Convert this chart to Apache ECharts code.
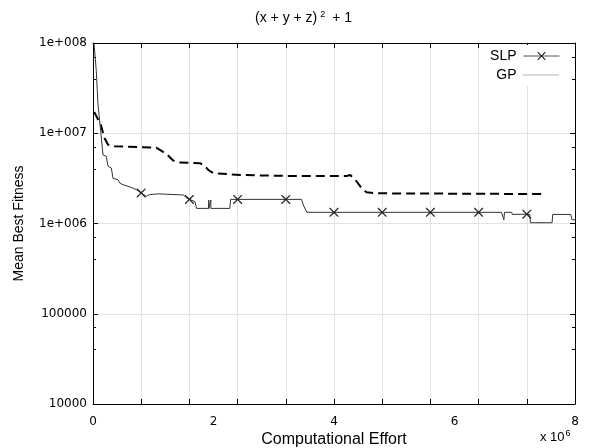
<!DOCTYPE html>
<html>
<head>
<meta charset="utf-8">
<script src="https://cdn.jsdelivr.net/npm/echarts@6/dist/echarts.min.js"></script>
<style>html,body{margin:0;padding:0;background:#fff}#c{width:607px;height:448px}</style>
</head>
<body>
<div id="c"></div>
<script>
// ---- data (x in units of 10^6 computational effort) ----
var slpX = [0.017,0.055,0.083,0.128,0.166,0.22,0.249,0.304,0.332,0.415,0.443,0.498,0.526,0.636,0.719,0.8,0.885,0.94,1.08,1.5,1.56,1.6,1.69,1.72,1.92,1.921,1.922,1.955,1.956,1.957,2.27,2.285,2.4,3.2,3.46,3.5,3.55,4.0,4.8,5.6,6.4,6.78,6.82,6.83,6.95,6.96,7.2,7.25,7.26,7.62,7.63,7.93,7.95,8.0];
var slpY = [1e8,4.85e7,2.07e7,1.05e7,5.75e6,5.56e6,4.31e6,4.12e6,3.16e6,3.06e6,2.81e6,2.69e6,2.57e6,2.51e6,2.37e6,2.18e6,2.0e6,2.09e6,2.13e6,2.07e6,1.90e6,1.85e6,1.75e6,1.47e6,1.47e6,1.82e6,1.47e6,1.47e6,1.82e6,1.47e6,1.47e6,1.85e6,1.85e6,1.85e6,1.85e6,1.55e6,1.33e6,1.33e6,1.33e6,1.33e6,1.33e6,1.33e6,1.1e6,1.33e6,1.33e6,1.26e6,1.27e6,1.25e6,1.02e6,1.02e6,1.26e6,1.26e6,1.1e6,1.1e6];
var slpMarkerX = [0.8,1.6,2.4,3.2,4.0,4.8,5.6,6.4,7.2];
var gpX = [0.02,0.13,0.19,0.25,0.36,1.05,1.15,1.22,1.33,1.45,1.78,1.85,1.92,2.0,2.5,3.2,4.21,4.27,4.38,4.46,4.54,4.71,7.47];
var gpY = [1.72e7,1.24e7,8.85e6,7.46e6,7.16e6,6.92e6,6.3e6,5.89e6,5.0e6,4.73e6,4.65e6,4.37e6,3.89e6,3.6e6,3.44e6,3.37e6,3.36e6,3.44e6,2.9e6,2.45e6,2.22e6,2.16e6,2.12e6];
var xTickLabels = ['0','2','4','6','8'];
var yTickLabels = {'4':'10000','5':'100000','6':'1e+006','7':'1e+007','8':'1e+008'};
var seriesNames = ['SLP','GP'];

var XPATH = 'path://M0,0L1,0L5,4L9,0L10,0L10,1L6,5L10,9L10,10L9,10L5,6L1,10L0,10L0,9L4,5L0,1Z';

var slpData = slpX.map(function (x, i) {
  var marked = slpMarkerX.indexOf(x) >= 0;
  return marked ? {value: [x, slpY[i]]} : {value: [x, slpY[i]], symbol: 'none'};
});
var gpData = gpX.map(function (x, i) { return [x, gpY[i]]; });

var tickFont = {fontFamily: 'DejaVu Sans', fontSize: 12, color: '#000'};
var gridLine = {show: true, lineStyle: {color: '#e2e2e2', width: 1}};

var chart = echarts.init(document.getElementById('c'), null, {renderer: 'canvas'});
chart.setOption({
  animation: false,
  backgroundColor: '#fff',
  title: {
    text: '{n|(x + y + z)}{s|2}{n| + 1}',
    left: 'center', top: 5,
    textStyle: {
      fontWeight: 'normal',
      rich: {
        n: {fontFamily: 'Liberation Sans', fontSize: 14, fontWeight: 'normal', color: '#000'},
        s: {fontFamily: 'Liberation Sans', fontSize: 9, fontWeight: 'normal', color: '#000', padding: [0, 3, 8, 3]}
      }
    }
  },
  grid: {left: 93, right: 32, top: 43, bottom: 44, containLabel: false, outerBoundsMode: 'none'},
  legend: {
    data: [
      {name: seriesNames[0], lineStyle: {width: 1, color: '#555'}},
      {name: seriesNames[1], itemStyle: {opacity: 0}, lineStyle: {type: [1, 1], width: 1, color: '#666'}}
    ],
    orient: 'vertical', align: 'right',
    top: 45, right: 43,
    itemWidth: 36, itemHeight: 10, itemGap: 5,
    backgroundColor: '#fff', padding: [4, 4, 4, 8],
    textStyle: {fontFamily: 'Liberation Sans', fontSize: 14, color: '#000', padding: [0, 2, 0, 0]}
  },
  xAxis: [
    {
      type: 'value', min: 0, max: 8, interval: 0.8, position: 'bottom',
      axisLine: {show: true, onZero: false, lineStyle: {color: '#000', width: 1}},
      axisTick: {show: true, inside: true, length: 5, lineStyle: {color: '#000'}},
      axisLabel: {show: false},
      splitLine: gridLine,
      name: 'Computational Effort', nameLocation: 'middle', nameGap: 28,
      nameTextStyle: {fontFamily: 'Liberation Sans', fontSize: 16, color: '#000'}
    },
    {
      type: 'value', min: 0, max: 8, interval: 2, position: 'bottom',
      axisLine: {show: false}, axisTick: {show: false}, splitLine: {show: false},
      axisLabel: Object.assign({show: true, margin: 12, formatter: function (v) {
        var idx = Math.round(v / 2);
        return xTickLabels[idx] !== undefined ? xTickLabels[idx] : '';
      }}, tickFont)
    },
    {
      type: 'value', min: 0, max: 8, interval: 0.8, position: 'top',
      axisLine: {show: true, onZero: false, lineStyle: {color: '#000', width: 1}},
      axisTick: {show: true, inside: true, length: 5, lineStyle: {color: '#000'}},
      axisLabel: {show: false}, splitLine: {show: false}
    }
  ],
  yAxis: [
    {
      type: 'log', logBase: 10, min: 1e4, max: 1e8, position: 'left',
      axisLine: {show: true, onZero: false, lineStyle: {color: '#000', width: 1}},
      axisTick: {show: true, inside: true, length: 5, lineStyle: {color: '#000'}},
      minorTick: {show: true, splitNumber: 3, length: 3, lineStyle: {color: '#000'}},
      axisLabel: Object.assign({margin: 6, formatter: function (v) {
        var k = String(Math.round(Math.log10(v)));
        return yTickLabels[k] || '';
      }}, tickFont),
      splitLine: gridLine,
      name: 'Mean Best Fitness', nameLocation: 'middle', nameGap: 67, nameRotate: 90,
      nameTextStyle: {fontFamily: 'Liberation Sans', fontSize: 14, color: '#000'}
    },
    {
      type: 'log', logBase: 10, min: 1e4, max: 1e8, position: 'right',
      axisLine: {show: true, onZero: false, lineStyle: {color: '#000', width: 1}},
      axisTick: {show: true, inside: true, length: 5, lineStyle: {color: '#000'}},
      minorTick: {show: true, splitNumber: 3, length: 3, lineStyle: {color: '#000'}},
      axisLabel: {show: false}, splitLine: {show: false}
    }
  ],
  graphic: [{
    type: 'text', left: 540, top: 429,
    style: {
      text: '{b|x 10}{s|6}',
      rich: {
        b: {fontFamily: 'Liberation Sans', fontSize: 13, fill: '#000'},
        s: {fontFamily: 'Liberation Sans', fontSize: 9, fill: '#000', padding: [0, 0, 7, 1]}
      }
    }
  }],
  series: [
    {
      name: seriesNames[0], type: 'line', xAxisIndex: 0, yAxisIndex: 0,
      data: slpData,
      symbol: XPATH, symbolSize: 9, showSymbol: true, showAllSymbol: true,
      itemStyle: {color: '#222'},
      lineStyle: {color: '#333', width: 1},
      z: 3
    },
    {
      name: seriesNames[1], type: 'line', xAxisIndex: 0, yAxisIndex: 0,
      data: gpData, symbol: 'none', smooth: false,
      lineStyle: {color: '#000', width: 2, type: [9, 5]},
      itemStyle: {color: '#000'},
      z: 2
    }
  ]
});
</script>
</body>
</html>
